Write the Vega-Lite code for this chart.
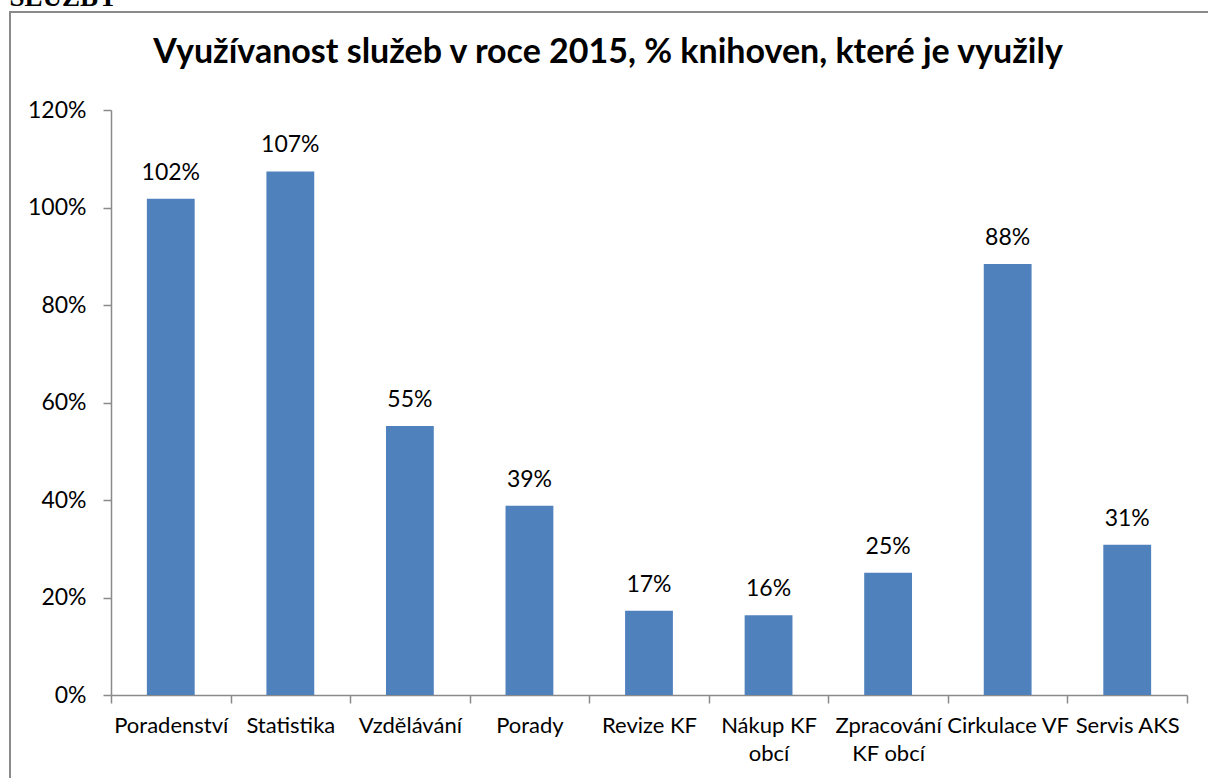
{
  "$schema": "https://vega.github.io/schema/vega-lite/v6.json",
  "autosize": "none",
  "width": 1200,
  "height": 768,
  "padding": {"left": 10, "top": 12, "right": -2, "bottom": -2},
  "background": "white",
  "config": {
    "view": {"stroke": "#8a8a8a", "strokeWidth": 2},
    "font": "Lato"
  },
  "data": {
    "values": [
      {"sluzba": "Poradenství", "podil": 1.018},
      {"sluzba": "Statistika", "podil": 1.074},
      {"sluzba": "Vzdělávání", "podil": 0.552},
      {"sluzba": "Porady", "podil": 0.388},
      {"sluzba": "Revize KF", "podil": 0.173},
      {"sluzba": "Nákup KF obcí", "podil": 0.1635},
      {"sluzba": "Zpracování KF obcí", "podil": 0.251},
      {"sluzba": "Cirkulace VF", "podil": 0.884},
      {"sluzba": "Servis AKS", "podil": 0.308}
    ]
  },
  "encoding": {
    "x": {
      "field": "sluzba",
      "type": "nominal",
      "sort": null,
      "scale": {"range": [101, 1177], "paddingInner": 0, "paddingOuter": 0},
      "axis": {
        "title": null,
        "orient": "bottom",
        "offset": -85,
        "labelAngle": 0,
        "tickBand": "extent",
        "tickSize": 8,
        "tickColor": "#8a8a8a",
        "tickWidth": 1.5,
        "domainColor": "#8a8a8a",
        "domainWidth": 1.5,
        "labelFont": "Lato",
        "labelFontSize": 22,
        "labelColor": "#000000",
        "labelBaseline": "alphabetic",
        "labelPadding": 29,
        "labelLineHeight": 28,
        "labelLimit": 0,
        "labelExpr": "datum.value == 'Nákup KF obcí' ? ['Nákup KF', 'obcí'] : datum.value == 'Zpracování KF obcí' ? ['Zpracování', 'KF obcí'] : datum.value"
      }
    },
    "y": {
      "field": "podil",
      "type": "quantitative",
      "scale": {"domain": [0, 1.2], "range": [683, 98], "nice": false, "zero": true},
      "axis": {
        "title": "SLUŽBY",
        "titleFont": "Liberation Serif",
        "titleFontSize": 27,
        "titleFontWeight": "bold",
        "titleColor": "#000000",
        "titleAngle": 0,
        "titleAlign": "left",
        "titleBaseline": "alphabetic",
        "titleX": -102,
        "titleY": -7,
        "orient": "left",
        "offset": -101,
        "values": [0, 0.2, 0.4, 0.6, 0.8, 1.0, 1.2],
        "format": ".0%",
        "grid": false,
        "tickSize": 8,
        "tickColor": "#8a8a8a",
        "tickWidth": 1.5,
        "domainColor": "#8a8a8a",
        "domainWidth": 1.5,
        "labelFont": "Lato",
        "labelFontSize": 23,
        "labelColor": "#000000",
        "labelPadding": 17
      }
    }
  },
  "layer": [
    {
      "mark": {"type": "bar", "color": "#4f81bd", "width": {"band": 0.4}}
    },
    {
      "mark": {"type": "text", "baseline": "alphabetic", "dy": -19, "font": "Lato", "fontSize": 23, "color": "#000000"},
      "encoding": {
        "text": {"field": "podil", "type": "quantitative", "format": ".0%"}
      }
    },
    {
      "data": {"values": [{"nadpis": "Využívanost služeb v roce 2015, % knihoven, které je využily", "poloha": 1.2964}]},
      "mark": {"type": "text", "baseline": "alphabetic", "font": "Lato", "fontSize": 34, "fontWeight": "bold", "color": "#000000", "dx": -2},
      "encoding": {
        "x": null,
        "y": {"field": "poloha", "type": "quantitative"},
        "text": {"field": "nadpis", "type": "nominal"}
      }
    }
  ]
}
